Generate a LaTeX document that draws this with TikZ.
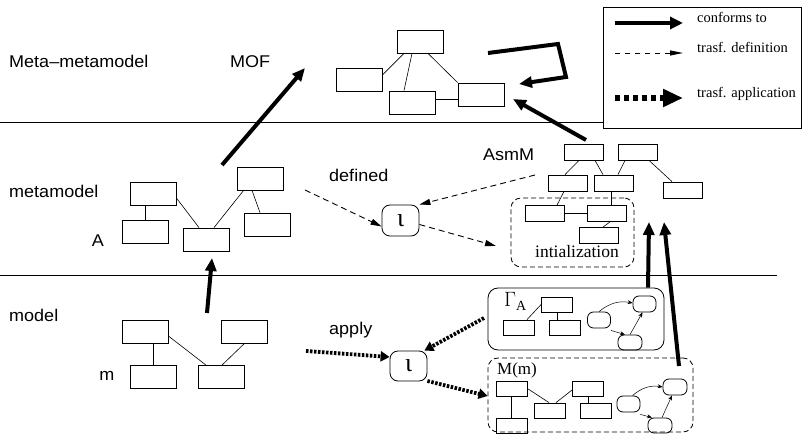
\documentclass[tikz,border=0pt]{standalone}
\usepackage{fontspec}
\setmainfont{Liberation Serif}
\newfontfamily\lblfont[FakeStretch=1.06]{Liberation Sans}
\usetikzlibrary{arrows.meta}
\begin{document}
\begin{tikzpicture}[x=1pt,y=-1pt,
 bx/.style={draw, line width=0.8pt, inner sep=0pt, minimum width=46pt, minimum height=23pt},
 sbx/.style={draw, line width=0.8pt, inner sep=0pt, minimum width=39pt, minimum height=16pt},
 tbx/.style={draw, line width=0.8pt, inner sep=0pt, minimum width=31pt, minimum height=15pt},
 st/.style={draw, line width=0.8pt, rounded corners=6pt, inner sep=0pt, minimum width=23pt, minimum height=16pt},
 lk/.style={line width=0.6pt},
 lbl/.style={font=\lblfont\fontsize{17}{19}\selectfont, inner sep=0pt},
 leg/.style={font=\fontsize{14.5}{16}\selectfont, inner sep=0pt, anchor=base west},
 conf/.style={line width=4pt, -{Triangle[length=13pt,width=11pt]}},
 defn/.style={line width=0.9pt, dash pattern=on 6pt off 4pt, -{Triangle[length=11pt,width=6pt]}},
 appl/.style={line width=3.8pt, dash pattern=on 2.5pt off 1.5pt, -{Triangle[length=9pt,width=10pt]}},
 iot/.style={draw, line width=0.8pt, rounded corners=8pt, minimum width=37pt, minimum height=31pt, inner sep=0pt, font=\fontsize{26}{26}\selectfont},
 sarr/.style={line width=0.5pt, -{Stealth[length=5pt,width=4pt]}},
]
\useasboundingbox (0,0) rectangle (803,443);

% layer lines and legend
\node[draw, line width=0.8pt, minimum width=198pt, minimum height=121pt, inner sep=0pt] (legend) at (702,67.5) {};
\coordinate (l1a) at (0,122);
\coordinate (l2a) at (0,275);
\coordinate (l2b) at (777,275);
\draw[line width=0.7pt] (l1a) -- (l1a -| legend.west);
\draw[line width=0.7pt] (l2a) -- (l2b);

\coordinate (c1a) at (615,23); \coordinate (c1b) at (683,23);
\coordinate (c2a) at (615,53); \coordinate (c2b) at (683,53);
\coordinate (c3a) at (615,98); \coordinate (c3b) at (683,98);
\draw[line width=4.5pt, -{Triangle[length=13pt,width=12pt]}] (c1a) -- (c1b);
\draw[line width=0.8pt, dash pattern=on 5pt off 5pt, -{Triangle[length=13pt,width=5pt]}] (c2a) -- (c2b);
\draw[line width=5.5pt, dash pattern=on 5pt off 4pt, -{Triangle[length=20pt,width=17pt]}] (c3a) -- (c3b);
\node[leg] (lg1) at (697,22.5) {conforms to};
\node[leg] (lg2) at (697,53) {trasf. definition};
\node[leg] (lg3) at (697,98) {trasf. application};

% labels
\node[lbl, anchor=base west] (tMM) at (9,68) {Meta–metamodel};
\node[lbl, anchor=base west] (tMOF) at (230,68) {MOF};
\node[lbl, anchor=base west] (tmeta) at (9,198) {metamodel};
\node[lbl, anchor=base] (tA) at (98,247) {A};
\node[lbl, anchor=base west] (tmodel) at (9,322) {model};
\node[lbl, anchor=base] (tm) at (107,381) {m};
\node[lbl, anchor=base west] (tdef) at (329,182) {defined};
\node[lbl, anchor=base west] (tapp) at (329,335) {apply};
\node[lbl, anchor=base west] (tasm) at (483,161) {AsmM};

% MOF model
\node[bx] (mT) at (420,41.5) {};
\node[bx] (mL) at (359,79.5) {};
\node[bx] (mB) at (412,102.5) {};
\node[bx] (mR) at (481,94.5) {};
\draw[lk] ([xshift=-16pt]mT.south) -- ([yshift=4.5pt]mL.east);
\draw[lk] ([xshift=-8pt]mT.south) -- ([xshift=-8pt]mB.north);
\draw[lk] ([xshift=8pt]mT.south) -- (mR.north west);
\draw[lk] ([yshift=3.5pt]mB.east) -- ([yshift=3.5pt]mB.east -| mR.west);

% MOF self loop
\coordinate (sl0) at (488,53);
\coordinate (sl1) at (558,44);
\coordinate (sl2) at (566,77);
\coordinate (sl3) at (519,84);
\draw[conf] (sl0) -- (sl1) -- (sl2) -- (sl3);

% metamodel A
\node[bx] (a1) at (153,193.5) {};
\node[bx] (a2) at (145,232) {};
\node[bx] (a3) at (206,239.5) {};
\node[bx] (a4) at (260,178.5) {};
\node[bx] (a5) at (267,224.5) {};
\draw[lk] ([xshift=-8pt]a1.south) -- ([xshift=-8pt]a1.south |- a2.north);
\draw[lk] ([yshift=-4.5pt]a1.east) -- ([xshift=-7pt]a3.north);
\draw[lk] ([xshift=8pt]a3.north) -- ([xshift=7pt]a4.south west);
\draw[lk] ([xshift=-8pt]a4.south) -- ([xshift=-7pt]a5.north);

% model m
\node[bx] (b1) at (145,331.5) {};
\node[bx] (b2) at (153,377) {};
\node[bx] (b3) at (221,377) {};
\node[bx] (b4) at (244.5,331.5) {};
\draw[lk] (b2.north |- b1.south) -- (b2.north);
\draw[lk] ([yshift=-4.5pt]b1.east) -- ([xshift=-15pt]b3.north);
\draw[lk] (b4.south) -- ([xshift=1pt]b3.north);

% conforms-to arrows
\coordinate (ca1) at (222,165); \coordinate (ca2) at (305,68);
\draw[conf] (ca1) -- (ca2);
\coordinate (cb1) at (586,140); \coordinate (cb2) at (513,99);
\draw[conf] (cb1) -- (cb2);
\coordinate (cc1) at (207,313); \coordinate (cc2) at (212,258);
\draw[conf] (cc1) -- (cc2);

% iota nodes
\node[iot] (iD) at (400.5,220.5) {ι};
\node[iot, minimum height=30pt] (iA) at (408.5,366) {ι};

% AsmM
\node[sbx] (t1) at (583.5,152) {};
\node[sbx] (t2) at (637.5,152) {};
\node[sbx] (s1) at (568,183) {};
\node[sbx] (s2) at (614,183) {};
\node[sbx] (sr) at (683,190) {};
\node[sbx] (i1) at (545,213.5) {};
\node[sbx] (i2) at (606.5,213.5) {};
\node[sbx] (i3) at (599,235.5) {};
\draw[lk] ([xshift=-4.5pt]t1.south) -- ([xshift=-3pt]s1.north);
\draw[lk] ([xshift=11.5pt]t1.south) -- ([xshift=-11pt]s2.north);
\draw[lk] ([xshift=-12.5pt]t2.south) -- ([xshift=4pt]s2.north);
\draw[lk] ([xshift=11.5pt]t2.south) -- ([xshift=-11pt]sr.north);
\draw[lk] ([xshift=-4pt]s1.south) -- ([xshift=12pt]i1.north);
\draw[lk] ([xshift=-3pt]s2.south) -- ([xshift=-3pt]s2.south |- i2.north);
\draw[lk] (i1.east) -- (i2.west);
\draw[lk] ([xshift=3.5pt]i2.south) -- ([xshift=4pt]i3.north);
\node[draw, line width=0.8pt, dash pattern=on 5pt off 3pt, rounded corners=10pt, minimum width=123pt, minimum height=69pt, inner sep=0pt] (init) at (572.5,232.5) {};
\node[leg, font=\fontsize{17.5}{18}\selectfont] (tinit) at (535,258) {intialization};

% Gamma_A
\node[draw, line width=0.8pt, rounded corners=10pt, minimum width=176pt, minimum height=62pt, inner sep=0pt] (gam) at (576,319) {};
\node[inner sep=0pt, anchor=base west, font=\fontsize{20}{20}\selectfont] (tgam) at (504,307) {$\Gamma_{\mathrm{A}}$};
\node[tbx] (ga) at (557,304.5) {};
\node[tbx] (gb) at (518.5,327.5) {};
\node[tbx] (gc) at (564.5,327.5) {};
\draw[lk] (ga.west) -- ([xshift=8.5pt]gb.north);
\draw[lk] (ga.south) -- ([xshift=-7.5pt]gc.north);
\node[st] (r1) at (599,320) {};
\node[st] (r2) at (644.5,304) {};
\node[st, minimum width=24pt, minimum height=15pt] (r3) at (630,342.5) {};
\draw[sarr] (r1.north) to[bend left=25] ([yshift=1pt]r2.west);
\draw[sarr] ([yshift=-2pt]r1.south east) -- ([xshift=-5pt]r3.north);
\draw[sarr] (r3.north) -- ([xshift=-2pt]r2.south);

% M(m)
\node[draw, line width=0.8pt, dash pattern=on 5pt off 3pt, rounded corners=10pt, minimum width=205pt, minimum height=74pt, inner sep=0pt] (mm) at (590.5,395) {};
\node[inner sep=0pt, anchor=base west, font=\fontsize{17}{17}\selectfont] (tmm) at (497,374) {M(m)};
\node[tbx] (p1) at (511.5,388.5) {};
\node[tbx] (p2) at (511.5,425.5) {};
\node[tbx] (p3) at (549.5,410.5) {};
\node[tbx] (p4) at (588,388.5) {};
\node[tbx] (p5) at (595.5,410.5) {};
\draw[lk] (p1.south) -- (p2.north);
\draw[lk] (p1.east) -- ([xshift=-0.5pt]p3.north);
\draw[lk] ([yshift=-1.5pt]p4.west) -- ([xshift=6.5pt]p3.north);
\draw[lk] (p4.south) -- (p4.south |- p5.north);
\node[st] (q1) at (628.5,404) {};
\node[st, minimum width=24pt] (q2) at (675,387) {};
\node[st, minimum width=24pt, minimum height=15pt] (q3) at (660,425.5) {};
\draw[sarr] ([xshift=4pt]q1.north) to[bend left=25] (q2.west);
\draw[sarr] ([yshift=-2pt]q1.south east) -- ([xshift=-8pt]q3.north);
\draw[sarr] ([xshift=2pt]q3.north) -- ([xshift=-3pt]q2.south);

% conforms-to arrows from Gamma_A and M(m)
\coordinate (cd2) at (649,222);
\draw[conf] ([xshift=72pt]gam.north) -- (cd2);
\coordinate (ce1) at (679,366); \coordinate (ce2) at (664,222);
\draw[conf] (ce1) -- (ce2);

% transformation definition
\coordinate (d1) at (305,190);
\draw[defn] (d1) -- ([yshift=-6pt]iD.west);
\coordinate (d2) at (535,175);
\draw[defn] (d2) -- (iD.north east);
\coordinate (d3) at (496,246);
\draw[defn] ([yshift=-4pt]iD.east) -- (d3);

% transformation application
\coordinate (e1) at (306,351);
\draw[appl] (e1) -- ([yshift=9pt]iA.west);
\coordinate (e2) at (484,318);
\draw[appl] (e2) -- ([xshift=-3pt]iA.north east);
\draw[appl] ([yshift=-15pt]iA.east) -- ([yshift=-1pt]mm.west);
\end{tikzpicture}
\end{document}
